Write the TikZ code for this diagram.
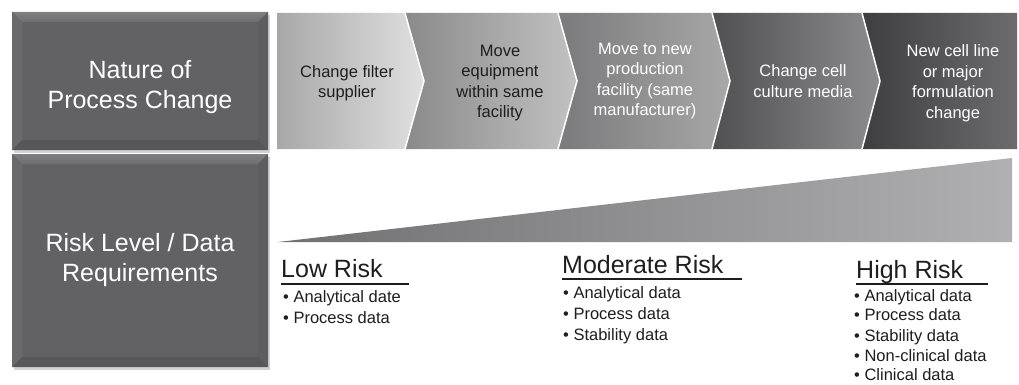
\documentclass[tikz,border=0pt]{standalone}
\usepackage{fontspec}
\setmainfont{Liberation Sans}
\definecolor{txtdark}{HTML}{1E1E1E}
\definecolor{boxmain}{HTML}{626264}
\definecolor{beveltop}{HTML}{7F7F81}
\definecolor{bevelleft}{HTML}{6A6A6C}
\definecolor{bevelright}{HTML}{5E5E60}
\definecolor{bevelbot}{HTML}{575759}
\definecolor{shadowc}{HTML}{D2D2D2}
\definecolor{cal}{HTML}{A8A8A8}
\definecolor{car}{HTML}{E0E0E0}
\definecolor{cbl}{HTML}{8A8A8A}
\definecolor{cbr}{HTML}{C2C2C2}
\definecolor{ccl}{HTML}{7A7A7C}
\definecolor{ccr}{HTML}{A8A8A8}
\definecolor{cdl}{HTML}{505052}
\definecolor{cdr}{HTML}{8C8C8E}
\definecolor{cel}{HTML}{3E3E40}
\definecolor{cer}{HTML}{6C6C6E}
\definecolor{wedgel}{HTML}{707072}
\definecolor{wedger}{HTML}{B0B0B2}
\newcommand\bevbox[4]{%
  \fill[shadowc] (#1+2,#2+3) rectangle (#3+2,#4+3);
  \fill[boxmain] (#1,#2) rectangle (#3,#4);
  \shade[top color=beveltop,bottom color=boxmain!92!white] (#1,#2) -- (#3,#2) -- (#3-10,#2+10) -- (#1+10,#2+10) -- cycle;
  \fill[bevelleft] (#1,#2) -- (#1+10,#2+10) -- (#1+10,#4-10) -- (#1,#4) -- cycle;
  \fill[bevelright] (#3,#2) -- (#3,#4) -- (#3-10,#4-10) -- (#3-10,#2+10) -- cycle;
  \fill[bevelbot] (#1,#4) -- (#3,#4) -- (#3-10,#4-10) -- (#1+10,#4-10) -- cycle;
}
\begin{document}
\begin{tikzpicture}[x=1pt,y=-1pt,
  chevtext/.style={align=center,font=\fontsize{16.5}{20.5}\selectfont,inner sep=0pt},
  darktext/.style={text=txtdark},
  lighttext/.style={text=white},
  boxtext/.style={align=center,text=white,font=\fontsize{25}{30}\selectfont,inner sep=0pt},
  risktitle/.style={anchor=base west,text=txtdark,font=\fontsize{25}{30}\selectfont,inner sep=0pt},
  bulletline/.style={anchor=base west,text=txtdark,font=\fontsize{16.5}{20}\selectfont,inner sep=0pt},
  sepline/.style={draw=white,line width=1.5pt},
  underl/.style={draw=txtdark,line width=2.6pt}]
\useasboundingbox (0,0) rectangle (1019,385);
\fill[white] (0,0) rectangle (1019,385);

% left boxes
\bevbox{12}{12}{268}{150}
\bevbox{12}{154}{268}{367}
\node[boxtext] (nature) at (140,87) {Nature of\\Process Change};
\node[boxtext] (risk) at (140,260) {Risk Level / Data\\Requirements};

% chevrons
\shade[left color=cal,right color=car] (277,13) -- (405,13) -- (424,81) -- (405,149) -- (277,149) -- cycle;
\shade[left color=cbl,right color=cbr] (405,13) -- (558,13) -- (577,81) -- (558,149) -- (405,149) -- (424,81) -- cycle;
\shade[left color=ccl,right color=ccr] (558,13) -- (712,13) -- (730,81) -- (712,149) -- (558,149) -- (577,81) -- cycle;
\shade[left color=cdl,right color=cdr] (712,13) -- (862,13) -- (880,81) -- (862,149) -- (712,149) -- (730,81) -- cycle;
\shade[left color=cel,right color=cer] (862,13) -- (1017,13) -- (1017,149) -- (862,149) -- (880,81) -- cycle;
\draw[sepline] (405,13) -- (424,81) -- (405,149);
\draw[sepline] (558,13) -- (577,81) -- (558,149);
\draw[sepline] (712,13) -- (730,81) -- (712,149);
\draw[sepline] (862,13) -- (880,81) -- (862,149);

\node[chevtext,darktext] (c1) at (347,83) {Change filter\\supplier};
\node[chevtext,darktext] (c2) at (500,83) {Move\\equipment\\within same\\facility};
\node[chevtext,lighttext] (c3) at (645,81) {Move to new\\production\\facility (same\\manufacturer)};
\node[chevtext,lighttext] (c4) at (803,81) {Change cell\\culture media};
\node[chevtext,lighttext] (c5) at (953,83) {New cell line\\or major\\formulation\\change};

% wedge
\shade[left color=wedgel,right color=wedger] (278,242) -- (1012,158) -- (1012,242) -- cycle;

% low risk
\node[risktitle] (low) at (281,277) {Low Risk};
\draw[underl] (281,284) -- (409,284);
\node[bulletline] (l1) at (283,302) {\textbullet\ Analytical date};
\node[bulletline] (l2) at (283,323) {\textbullet\ Process data};

% moderate risk
\node[risktitle] (mod) at (562,273) {Moderate Risk};
\draw[underl] (562,279) -- (742,279);
\node[bulletline] (m1) at (563,298) {\textbullet\ Analytical data};
\node[bulletline] (m2) at (563,319) {\textbullet\ Process data};
\node[bulletline] (m3) at (563,340) {\textbullet\ Stability data};

% high risk
\node[risktitle] (high) at (856,278) {High Risk};
\draw[underl] (856,284) -- (988,284);
\node[bulletline] (h1) at (854,301) {\textbullet\ Analytical data};
\node[bulletline] (h2) at (854,320) {\textbullet\ Process data};
\node[bulletline] (h3) at (854,341) {\textbullet\ Stability data};
\node[bulletline] (h4) at (854,361) {\textbullet\ Non-clinical data};
\node[bulletline] (h5) at (854,380) {\textbullet\ Clinical data};
\end{tikzpicture}
\end{document}
